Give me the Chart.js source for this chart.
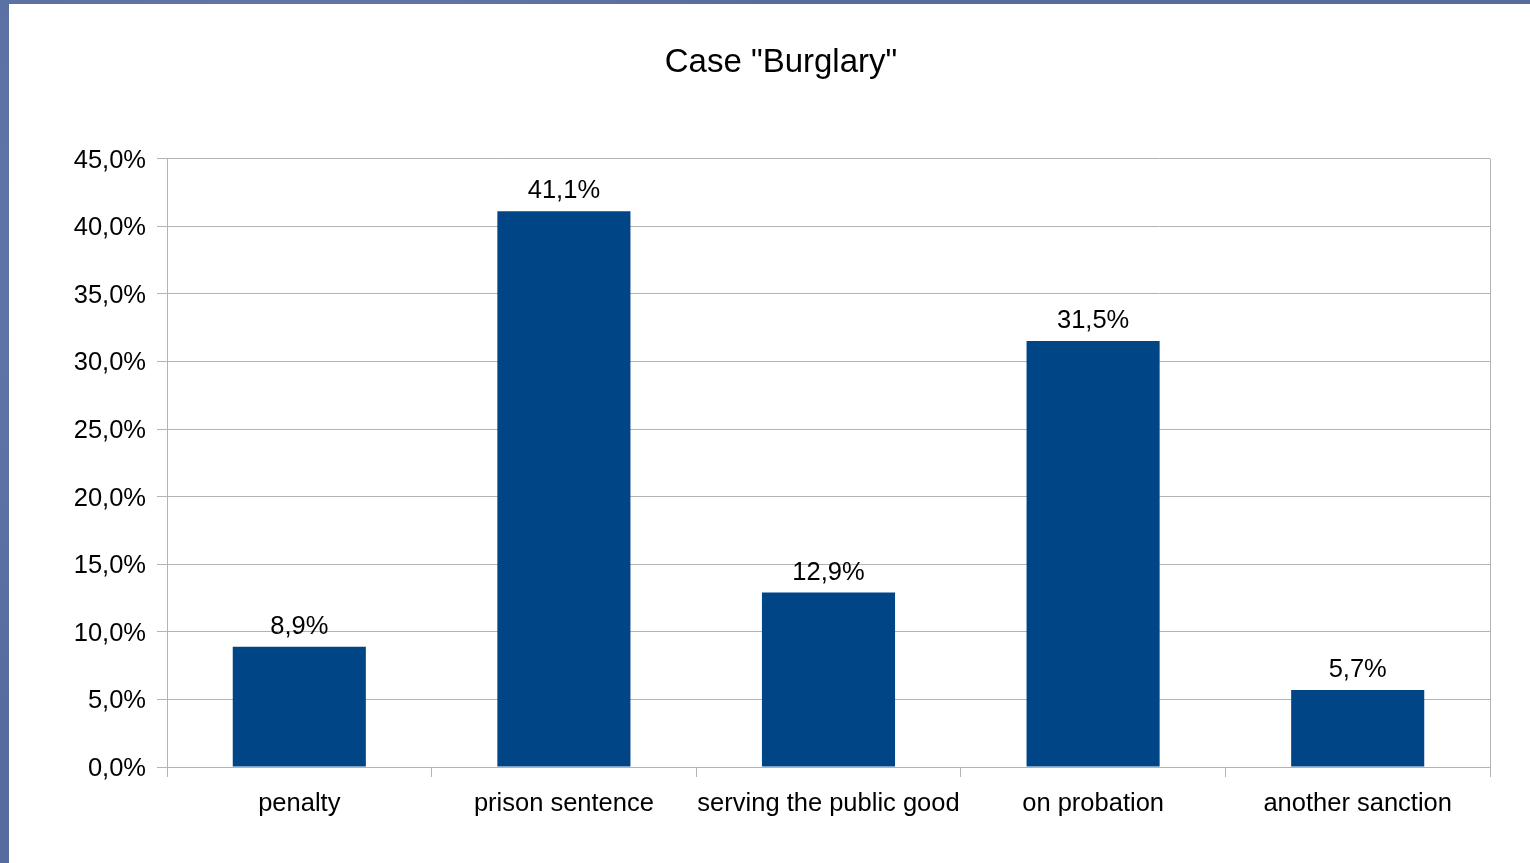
<!DOCTYPE html>
<html>
<head>
<meta charset="utf-8">
<script src="https://cdn.jsdelivr.net/npm/chart.js@4"></script>
<style>
  html, body { margin: 0; padding: 0; }
  body {
    width: 1530px; height: 863px; overflow: hidden;
    background: #566c9f;
    background-image:
      radial-gradient(circle at 20% 30%, rgba(140,160,205,0.35) 0, transparent 40%),
      radial-gradient(circle at 70% 80%, rgba(40,55,100,0.35) 0, transparent 45%);
  }
  #sheet {
    position: absolute; left: 9px; top: 4px;
    width: 1521px; height: 859px; background: #fff;
  }
</style>
</head>
<body>
<div id="sheet"><canvas id="chart" width="1521" height="859"></canvas></div>
<script>
// --- datos ---
const categories = ['penalty', 'prison sentence', 'serving the public good', 'on probation', 'another sanction'];
const shares = [8.9, 41.1, 12.9, 31.5, 5.7];
const yTicks = [0, 5, 10, 15, 20, 25, 30, 35, 40, 45];

const FONT = '"Liberation Sans", Arial, sans-serif';
const GRID = '#b3b3b3';

const pct = v => v.toFixed(1).replace('.', ',') + '%';

// etiquetas de valor encima de cada barra
const valueLabels = {
  id: 'valueLabels',
  afterDatasetsDraw(chart) {
    const ctx = chart.ctx;
    const meta = chart.getDatasetMeta(0);
    ctx.save();
    ctx.font = '25.5px ' + FONT;
    ctx.fillStyle = '#000';
    ctx.textAlign = 'center';
    ctx.textBaseline = 'alphabetic';
    meta.data.forEach((bar, i) => {
      ctx.fillText(pct(shares[i]), bar.x, bar.y - 13);
    });
    ctx.restore();
  }
};

new Chart(document.getElementById('chart'), {
  type: 'bar',
  data: {
    labels: categories,
    datasets: [{
      data: shares,
      backgroundColor: '#004586',
      categoryPercentage: 1,
      barPercentage: 0.503
    }]
  },
  options: {
    responsive: false,
    animation: false,
    devicePixelRatio: 1,
    layout: { padding: { left: 63, right: 40, top: 0, bottom: 0 } },
    plugins: {
      legend: { display: false },
      tooltip: { enabled: false },
      title: {
        display: true,
        text: 'Case "Burglary"',
        color: '#000',
        font: { family: FONT, size: 33, weight: 'normal', lineHeight: 1.2 },
        padding: { top: 39, bottom: 76 }
      }
    },
    scales: {
      x: {
        offset: true,
        afterFit: s => { s.height = 96; },
        grid: {
          offset: true,
          drawOnChartArea: true,
          // solo el borde derecho atraviesa el área; el resto son marcas
          color: c => (c.type !== 'tick' || c.index === 0) ? GRID : 'rgba(0,0,0,0)',
          tickColor: GRID,
          tickLength: 10,
          lineWidth: 1
        },
        border: { display: true, color: GRID },
        ticks: {
          color: '#000',
          padding: 12,
          maxRotation: 0,
          autoSkip: false,
          font: { family: FONT, size: 25.5 }
        }
      },
      y: {
        min: 0,
        max: 45,
        afterFit: s => { s.width = 95; },
        afterBuildTicks: s => { s.ticks = yTicks.map(v => ({ value: v })); },
        grid: { color: GRID, tickColor: GRID, tickLength: 10, lineWidth: 1 },
        border: { display: true, color: GRID },
        ticks: {
          color: '#000',
          padding: 11,
          labelOffset: 2,
          font: { family: FONT, size: 25.5 },
          callback: v => pct(v)
        }
      }
    }
  },
  plugins: [valueLabels]
});
</script>
</body>
</html>
